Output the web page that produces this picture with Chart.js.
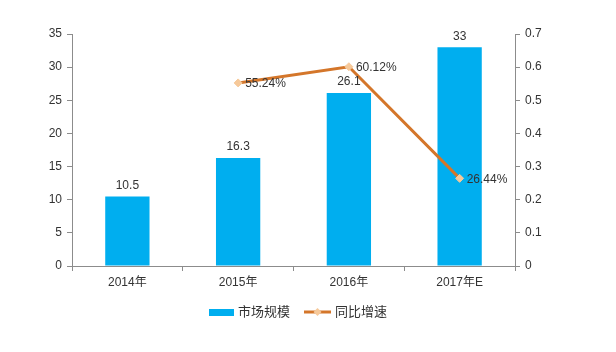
<!DOCTYPE html>
<html>
<head>
<meta charset="utf-8">
<script src="https://cdn.jsdelivr.net/npm/chart.js@4/dist/chart.umd.min.js"></script>
<style>
    html, body { margin: 0; padding: 0; background: #fff; }
    #wrap { width: 616px; height: 352px; }
</style>
</head>
<body>
<div id="wrap"><canvas id="chart" width="616" height="352"></canvas></div>
<script>
    'use strict';

    var categories = ['2014年', '2015年', '2016年', '2017年E'],
        marketSize = [10.5, 16.3, 26.1, 33],
        growthRate = [null, 0.5524, 0.6012, 0.2644],
        growthLabels = ['', '55.24%', '60.12%', '26.44%'],
        seriesNames = ['市场规模', '同比增速'];

    var FONT = '"Liberation Sans", "Noto Sans CJK SC", sans-serif',
        BAR_COLOR = '#00AEEF',
        LINE_COLOR = '#D4762A',
        POINT_COLOR = '#F6C99A',
        AXIS_COLOR = '#8C8C8C',
        TEXT_COLOR = '#333333';

    // value labels and the bottom legend, drawn straight onto the canvas
    var labelsPlugin = {
        id: 'valueLabels',
        afterDatasetsDraw: function (chart) {
            var ctx = chart.ctx,
                points = chart.getDatasetMeta(0).data,
                bars = chart.getDatasetMeta(1).data;

            ctx.save();
            ctx.font = '12px ' + FONT;
            ctx.fillStyle = TEXT_COLOR;

            ctx.textAlign = 'center';
            ctx.textBaseline = 'bottom';
            bars.forEach(function (bar, i) {
                ctx.fillText(String(marketSize[i]), bar.x, bar.y - 5);
            });

            ctx.textAlign = 'left';
            ctx.textBaseline = 'middle';
            points.forEach(function (pt, i) {
                if (growthRate[i] === null) { return; }
                ctx.fillText(growthLabels[i], pt.x + 7, pt.y + 1);
            });
            ctx.restore();
        },
        afterDraw: function (chart) {
            var ctx = chart.ctx,
                y = 312;

            ctx.save();
            ctx.font = '13px ' + FONT;
            ctx.textBaseline = 'middle';
            ctx.textAlign = 'left';

            ctx.fillStyle = BAR_COLOR;
            ctx.fillRect(209, y - 3, 25, 7);
            ctx.fillStyle = TEXT_COLOR;
            ctx.fillText(seriesNames[0], 238, y);

            ctx.strokeStyle = LINE_COLOR;
            ctx.lineWidth = 3;
            ctx.beginPath();
            ctx.moveTo(304, y);
            ctx.lineTo(331, y);
            ctx.stroke();
            ctx.fillStyle = POINT_COLOR;
            ctx.beginPath();
            ctx.moveTo(317.5, y - 4);
            ctx.lineTo(321.5, y);
            ctx.lineTo(317.5, y + 4);
            ctx.lineTo(313.5, y);
            ctx.closePath();
            ctx.fill();
            ctx.fillStyle = TEXT_COLOR;
            ctx.fillText(seriesNames[1], 335, y);
            ctx.restore();
        }
    };

    new Chart(document.getElementById('chart'), {
        data: {
            labels: categories,
            datasets: [{
                type: 'line',
                label: seriesNames[1],
                data: growthRate,
                yAxisID: 'y1',
                borderColor: LINE_COLOR,
                borderWidth: 3,
                pointStyle: 'rectRot',
                pointRadius: 4,
                pointBackgroundColor: POINT_COLOR,
                pointBorderColor: POINT_COLOR,
                pointBorderWidth: 1,
                tension: 0,
                order: 0
            }, {
                type: 'bar',
                label: seriesNames[0],
                data: marketSize,
                yAxisID: 'y',
                backgroundColor: BAR_COLOR,
                categoryPercentage: 1,
                barPercentage: 0.4,
                order: 1
            }]
        },
        options: {
            responsive: false,
            animation: false,
            layout: { padding: { top: 34, right: 0, bottom: 0, left: 0 } },
            plugins: {
                legend: { display: false },
                tooltip: { enabled: false }
            },
            scales: {
                x: {
                    offset: true,
                    grid: {
                        offset: true,
                        drawOnChartArea: false,
                        tickLength: 5,
                        color: AXIS_COLOR
                    },
                    border: { color: AXIS_COLOR },
                    ticks: {
                        color: TEXT_COLOR,
                        font: { family: FONT, size: 12 },
                        padding: 4
                    },
                    afterFit: function (scale) { scale.height = 86; }
                },
                y: {
                    position: 'left',
                    min: 0,
                    max: 35,
                    ticks: {
                        stepSize: 5,
                        color: TEXT_COLOR,
                        font: { family: FONT, size: 12 },
                        padding: 5
                    },
                    grid: {
                        drawOnChartArea: false,
                        tickLength: 5,
                        color: AXIS_COLOR
                    },
                    border: { color: AXIS_COLOR },
                    afterFit: function (scale) { scale.width = 72; }
                },
                y1: {
                    position: 'right',
                    min: 0,
                    max: 0.7,
                    ticks: {
                        stepSize: 0.1,
                        color: TEXT_COLOR,
                        font: { family: FONT, size: 12 },
                        padding: 5,
                        callback: function (v) { return String(Math.round(v * 10) / 10); }
                    },
                    grid: {
                        drawOnChartArea: false,
                        tickLength: 5,
                        color: AXIS_COLOR
                    },
                    border: { color: AXIS_COLOR },
                    afterFit: function (scale) { scale.width = 101; }
                }
            }
        },
        plugins: [labelsPlugin]
    });
</script>
</body>
</html>
